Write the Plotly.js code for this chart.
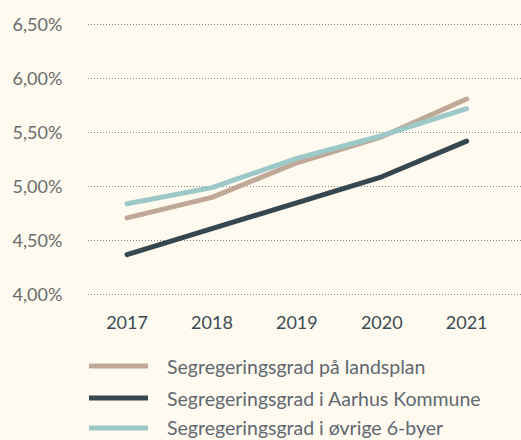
<!DOCTYPE html>
<html><head><meta charset="utf-8">
<script src="https://cdn.plot.ly/plotly-3.0.1.min.js"></script>
<style>
html,body{margin:0;padding:0;background:#fefaf0;}
#chart{width:521px;height:440px;}
.scatterlayer path.js-line{stroke-linecap:round;stroke-linejoin:round;}
</style></head><body>
<div id="chart"></div>
<script>
const years = [2017, 2018, 2019, 2020, 2021];
const seriesNames = ["Segregeringsgrad på landsplan", "Segregeringsgrad i Aarhus Kommune", "Segregeringsgrad i øvrige 6-byer"];
const landsplan = [0.0471, 0.0490, 0.0522, 0.0546, 0.0581];
const aarhus = [0.0437, 0.0461, 0.0486, 0.0509, 0.0542];
const byer6 = [0.0484, 0.0499, 0.0526, 0.0547, 0.0572];
const yTicks = [0.04, 0.045, 0.05, 0.055, 0.06, 0.065];
const colors = ["#bfa898", "#36474f", "#9cc8c8"];

const data = [landsplan, aarhus, byer6].map((vals, i) => ({
  x: years, y: vals, type: "scatter", mode: "lines", name: seriesNames[i],
  line: {color: colors[i], width: 5}, hoverinfo: "skip"
}));

// plot area: left 88, width 433; top 19, bottom 300 (height 281)
const legendRowsPx = [366, 398, 428];
const shapes = [], annotations = [];
seriesNames.forEach((n, i) => {
  const yy = (300 - legendRowsPx[i]) / 281;
  shapes.push({type: "line", xref: "paper", yref: "paper", x0: 0.0023, x1: 0.1386,
    y0: yy, y1: yy, line: {color: colors[i], width: 5}, layer: "above"});
  annotations.push({xref: "paper", yref: "paper", x: 0.177, y: yy, xanchor: "left",
    yanchor: "middle", text: n, showarrow: false,
    font: {family: "Lato, sans-serif", size: 19.5, color: "#5f6870"}});
});

const layout = {
  width: 521, height: 440,
  paper_bgcolor: "#fefaf0", plot_bgcolor: "#fefaf0",
  margin: {l: 88, r: 0, t: 19, b: 140},
  showlegend: false,
  separators: ",.",
  font: {family: "Lato, sans-serif"},
  xaxis: {
    range: [2016.54, 2021.64], tickvals: years, ticktext: years.map(String),
    showgrid: false, zeroline: false, showline: false,
    ticks: "outside", ticklen: 6, tickcolor: "rgba(0,0,0,0)",
    tickfont: {size: 18, color: "#3b4a54"}
  },
  yaxis: {
    range: [0.0395, 0.0655], tickvals: yTicks, tickformat: ".2%",
    showgrid: true, gridcolor: "#8a8a8a", griddash: "1px,2px", gridwidth: 1,
    zeroline: false, showline: false,
    ticks: "outside", ticklen: 21, tickcolor: "rgba(0,0,0,0)",
    tickfont: {size: 18, color: "#6b6b6b"}
  },
  shapes: shapes, annotations: annotations
};
Plotly.newPlot("chart", data, layout, {staticPlot: true, displayModeBar: false});
</script></body></html>
